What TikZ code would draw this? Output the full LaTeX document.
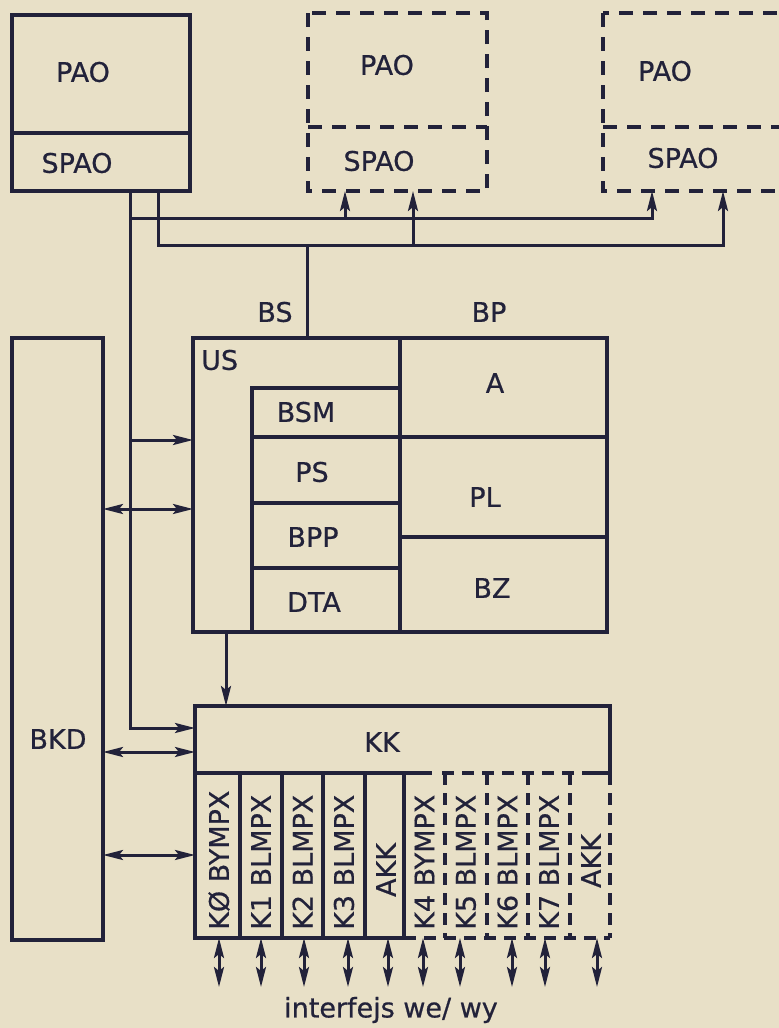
\documentclass[tikz,border=0pt]{standalone}
\usepackage{fontspec}
\setmainfont{DejaVu Sans}
\newfontfamily\lblfont{DejaVu Sans}[FakeBold=0.6]
\usetikzlibrary{arrows.meta}
\definecolor{paper}{RGB}{232,224,199}
\definecolor{ink}{RGB}{34,34,58}
\begin{document}
\begin{tikzpicture}[x=1pt,y=-1pt,
  bx/.style={draw=ink,line width=4pt,inner sep=0pt,outer sep=0pt},
  nb/.style={inner sep=0pt,outer sep=0pt},
  sz/.style 2 args={minimum width=#1pt,minimum height=#2pt},
  dsh/.style={draw=ink,line width=3.4pt,dash pattern=on 14pt off 10pt},
  dshc/.style={draw=ink,line width=3.2pt,dash pattern=on 12pt off 8pt},
  conn/.style={draw=ink,line width=3pt},
  tip/.tip={Stealth[length=20pt,width=10pt,inset=4pt]},
  arr/.style={-tip},
  biarr/.style={tip-tip},
  lbl/.style={font=\lblfont\fontsize{27}{30}\selectfont,text=ink,inner sep=0pt},
]
\useasboundingbox (0,0) rectangle (779,1028);
\clip (0,0) rectangle (779,1028);
\fill[paper] (0,0) rectangle (779,1028);

% ---- PAO units ----
\node[bx,sz={178}{118}] (pao1) at (101,74) {};
\node[bx,sz={178}{58}] (spao1) at (101,162) {};
\node[nb,sz={179}{114}] (pao2) at (397.5,70) {};
\node[nb,sz={179}{64}] (spao2) at (397.5,159) {};
\node[nb,sz={197}{114}] (pao3) at (701.5,70) {};
\node[nb,sz={197}{64}] (spao3) at (701.5,159) {};
\draw[dsh] (pao2.north west) rectangle (spao2.south east);
\draw[dsh] (pao2.south west) -- (pao2.south east);
\draw[dsh] (pao3.north west) rectangle (spao3.south east);
\draw[dsh] (pao3.south west) -- (pao3.south east);

\node[lbl] (tpao1) at (83,72) {PAO};
\node[lbl] (tspao1) at (77,163) {SPAO};
\node[lbl] (tpao2) at (387,65) {PAO};
\node[lbl] (tspao2) at (379,161) {SPAO};
\node[lbl] (tpao3) at (665,71) {PAO};
\node[lbl] (tspao3) at (683,158) {SPAO};

% ---- BKD ----
\node[bx,sz={91}{602}] (bkd) at (57.5,639) {};
\node[lbl] (tbkd) at (58,739) {BKD};

% ---- US / BP ----
\node[bx,sz={207}{294}] (us) at (296.5,485) {};
\node[bx,sz={148}{49}] (bsm) at (326,412.5) {};
\node[bx,sz={148}{66}] (ps) at (326,470) {};
\node[bx,sz={148}{65}] (bpp) at (326,535.5) {};
\node[bx,sz={148}{64}] (dta) at (326,600) {};
\node[bx,sz={207}{99}] (a) at (503.5,387.5) {};
\node[bx,sz={207}{100}] (pl) at (503.5,487) {};
\node[bx,sz={207}{95}] (bz) at (503.5,584.5) {};
\node[lbl,anchor=west] (tus) at (201,360) {US};
\node[lbl] (tbsm) at (306,412) {BSM};
\node[lbl] (tps) at (312,472) {PS};
\node[lbl] (tbpp) at (313,537) {BPP};
\node[lbl] (tdta) at (314,602) {DTA};
\node[lbl] (ta) at (495,383) {A};
\node[lbl] (tpl) at (485,497) {PL};
\node[lbl] (tbz) at (492,588) {BZ};
\node[lbl] (tbs) at (275,312) {BS};
\node[lbl] (tbp) at (489,312) {BP};

% ---- KK and channels ----
\node[nb,sz={415}{67}] (kk) at (402.5,739.5) {};
\draw[ink,line width=4pt] (kk.south west) -- (kk.north west) -- (kk.north east) -- (kk.south east) -- ++(-22,0);
\node[lbl] (tkk) at (382,742) {KK};

\node[bx,sz={45}{165}] (k0) at (217.5,855.5) {};
\node[bx,sz={42}{165}] (k1) at (261,855.5) {};
\node[bx,sz={41}{165}] (k2) at (302.5,855.5) {};
\node[bx,sz={42}{165}] (k3) at (344,855.5) {};
\node[bx,sz={39}{165}] (akk1) at (384.5,855.5) {};
\node[nb,sz={41}{165}] (k4) at (424.5,855.5) {};
\node[nb,sz={42}{165}] (k5) at (466,855.5) {};
\node[nb,sz={41}{165}] (k6) at (507.5,855.5) {};
\node[nb,sz={42}{165}] (k7) at (549,855.5) {};
\node[nb,sz={40}{165}] (akk2) at (590,855.5) {};
\draw[ink,line width=4pt] (k4.north west) -- ++(28,0);
\draw[dshc] (k4.north west) ++(38,0) -- (akk2.north east);
\draw[dshc] (k4.south west) -- (akk2.south east);
\foreach \c in {k4,k5,k6,k7,akk2} \draw[dshc] (\c.north west) -- (\c.south west);
\draw[dshc] (akk2.north east) -- (akk2.south east);

\node[lbl,rotate=90,anchor=west] (tk0) at (219,930) {KØ BYMPX};
\node[lbl,rotate=90,anchor=west] (tk1) at (261,930) {K1 BLMPX};
\node[lbl,rotate=90,anchor=west] (tk2) at (302.5,930) {K2 BLMPX};
\node[lbl,rotate=90,anchor=west] (tk3) at (344,930) {K3 BLMPX};
\node[lbl,rotate=90] (takk1) at (386,870) {AKK};
\node[lbl,rotate=90,anchor=west] (tk4) at (424.5,930) {K4 BYMPX};
\node[lbl,rotate=90,anchor=west] (tk5) at (466,930) {K5 BLMPX};
\node[lbl,rotate=90,anchor=west] (tk6) at (507.5,930) {K6 BLMPX};
\node[lbl,rotate=90,anchor=west] (tk7) at (549,930) {K7 BLMPX};
\node[lbl,rotate=90] (takk2) at (591,861) {AKK};

% ---- buses ----
\coordinate (bA) at (130,218);
\coordinate (bB) at (158,245);
\coordinate (io) at (0,987);
\draw[conn,arr] (spao1.south -| bA) |- (kk.west |- 0,728);
\draw[conn,arr] (bA) -| (spao3.south -| 652,0);
\draw[conn,arr] (345,218) -- (spao2.south -| 345,0);
\draw[conn,arr] (spao1.south -| bB) |- (723,245) -- (spao3.south -| 723,0);
\draw[conn,arr] (413,245) -- (spao2.south -| 413,0);
\draw[conn] (307,245) -- (us.north -| 307,0);
\draw[conn,arr] (130,440) -- (us.west |- 0,440);
\draw[conn,biarr] (bkd.east |- 0,509) -- (us.west |- 0,509);
\draw[conn,biarr] (bkd.east |- 0,752) -- (kk.west |- 0,752);
\draw[conn,biarr] (bkd.east |- 0,855) -- (k0.west |- 0,855);
\draw[conn,arr] (us.south -| 226,0) -- (kk.north -| 226,0);

% ---- interface arrows ----
\foreach \c/\x in {k0/219,k1/261,k2/304,k3/348,akk1/388,k4/423,k5/460,k6/512,k7/545,akk2/597}
  \draw[conn,biarr] (\c.south -| \x,0) -- (io -| \x,0);
\node[lbl] (tio) at (391,1010) {interfejs we/ wy};
\end{tikzpicture}
\end{document}
